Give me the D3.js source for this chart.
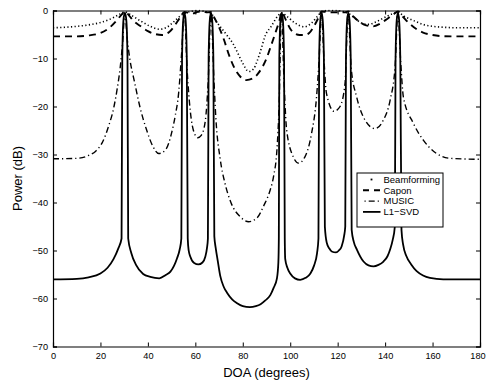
<!DOCTYPE html>
<html>
<head>
<meta charset="utf-8">
<script src="https://cdn.jsdelivr.net/npm/d3@7"></script>
<style>
  html, body { margin: 0; padding: 0; background: #fff; }
  svg { display: block; font-family: "Liberation Sans", Arial, Helvetica, sans-serif; }
</style>
</head>
<body>
<svg id="chart" width="486" height="385"></svg>
<script>
// ---------- DATA (degrees, dB) ----------
const xTicks = [0, 20, 40, 60, 80, 100, 120, 140, 160, 180];
const yTicks = [0, -10, -20, -30, -40, -50, -60, -70];
const seriesNames = ["Beamforming", "Capon", "MUSIC", "L1\u2212SVD"];

const beamforming = [
  [0,-3.6],[5,-3.5],[10,-3.3],[15,-3.0],[20,-2.5],[25,-1.6],[28,-0.8],[30.3,-0.3],
  [33,-1.0],[37,-2.2],[41,-3.3],[45,-3.9],[48,-3.5],[51,-2.3],[54,-1.0],[55.5,-0.6],
  [58,-0.2],[61,0],[64,-0.2],[66.6,-0.6],[69,-2.4],[72,-4.3],[74,-5.6],[76,-7.0],
  [78,-9.0],[80,-11.0],[82.5,-12.7],[84.5,-12.2],[86,-10.6],[87.5,-8.4],[89.5,-5.2],
  [92,-3.3],[95,-1.0],[96.4,-0.5],[99,-1.4],[102,-2.6],[106,-3.4],[109,-2.6],
  [111.5,-1.2],[113.2,-0.3],[116,0],[119,0],[122,-0.2],[124.5,-0.6],[127,-1.5],
  [130,-2.6],[133,-2.9],[136,-2.4],[140,-1.4],[143,-0.7],[145.4,-0.4],[148,-1.2],
  [152,-2.1],[156,-2.9],[160,-3.3],[165,-3.5],[170,-3.6],[180,-3.6]
];

const capon = [
  [0,-5.4],[10,-5.4],[15,-5.2],[20,-4.7],[24,-3.5],[27,-2.0],[29,-0.8],[30.3,-0.2],
  [32,-1.0],[34,-2.2],[37,-3.3],[40,-4.3],[43,-4.9],[46,-5.1],[49,-4.5],[51.5,-3.0],
  [53.5,-1.5],[55.4,-0.3],[57,-0.5],[59,-0.6],[61,-0.3],[63,-0.2],[65,-0.4],[66.6,-0.3],
  [68,-1.5],[70,-3.5],[72,-6.0],[74,-9.0],[76.5,-12.0],[79,-13.8],[81.5,-14.5],
  [84,-14.2],[86,-13.4],[88,-12.0],[90,-10.0],[92,-7.2],[94,-4.3],[95.5,-2.0],
  [96.4,-0.3],[98,-1.8],[100,-3.8],[102,-4.8],[104,-5.1],[106,-5.1],[108,-4.7],
  [110,-3.3],[111.8,-1.6],[113.2,-0.2],[115,-0.3],[118,-0.4],[121,-0.4],[123,-0.4],
  [124.5,-0.2],[126.5,-1.2],[129,-2.3],[132,-3.1],[135,-3.3],[138,-2.7],[141,-1.7],
  [143.5,-0.8],[145.4,-0.2],[147.5,-1.3],[150,-2.6],[153,-3.8],[156,-4.6],[159,-5.0],
  [163,-5.3],[170,-5.4],[180,-5.4]
];

const music = [
  [0,-30.9],[10,-30.8],[15,-30.2],[18,-29.3],[21,-27.3],[23.5,-24.0],[25.5,-20.5],
  [27,-16.5],[28.3,-12.0],[29.3,-7.0],[30.3,-0.5],[31.3,-6.0],[32.3,-9.8],[34.5,-15.2],
  [36.6,-20.0],[39.4,-24.8],[42,-28.2],[44.6,-29.8],[47.5,-29.0],[50,-25.5],[51.5,-22.0],
  [53,-17.0],[54.2,-9.0],[55.4,-0.5],[56.5,-12.0],[57.5,-19.0],[59.2,-25.0],[61,-26.5],
  [62.5,-26.0],[64.2,-23.0],[65.4,-15.0],[66.6,-0.5],[67.8,-14.0],[68.6,-22.0],
  [70.5,-31.0],[72.5,-36.0],[75,-40.0],[79,-43.0],[82.5,-44.0],[86,-43.2],[89,-40.5],
  [91.5,-37.5],[93,-34.5],[94.4,-29.0],[95.3,-20.0],[96.3,-0.5],[97.4,-15.0],
  [98.5,-24.9],[101.3,-30.5],[103.5,-31.8],[106.2,-30.5],[109,-25.6],[111.1,-18.0],
  [112.2,-10.0],[113.2,-0.5],[114.2,-10.0],[115.3,-17.3],[118.5,-21.0],[121,-20.0],
  [123.1,-15.2],[124.4,-0.5],[125.7,-12.0],[128,-18.0],[131.5,-22.8],[135.7,-24.6],
  [139.3,-22.8],[142.1,-18.7],[144.2,-11.7],[145.4,-0.5],[146.6,-11.0],[147.7,-18.0],
  [151.9,-23.5],[156.1,-27.0],[161.7,-29.8],[167.4,-30.8],[180,-31.0]
];

const l1svd = [
  [0,-56.0],[10,-55.9],[15,-55.6],[20,-54.8],[23,-53.6],[25.5,-51.8],[27.5,-49.6],
  [28.9,-47.5],[29.2,-10],[29.7,-2],[30.3,-0.5],[30.9,-2],[31.4,-10],[31.7,-47.5],
  [33,-50.5],[35,-53.0],[38,-54.9],[41,-55.5],[44.8,-55.8],[47.5,-55.1],[49.5,-54.4],
  [51,-53.2],[52.3,-51.6],[53.4,-49.8],[54.1,-47.5],[54.4,-10],[54.9,-2],[55.4,-0.5],
  [55.9,-2],[56.4,-10],[56.8,-47.5],[57.2,-50.0],[57.9,-51.3],[59.5,-52.6],[61.3,-52.9],
  [63,-52.5],[64.2,-51.3],[64.9,-49.5],[65.3,-47.5],[65.6,-10],[66.1,-2],[66.6,-0.5],
  [67.1,-2],[67.6,-10],[68.0,-47.0],[68.6,-49.5],[69.4,-52.0],[70.5,-55.3],[72,-57.6],
  [73.5,-58.9],[75.5,-60.2],[77.6,-61.0],[80,-61.6],[83,-61.8],[85.5,-61.6],[87.5,-61.2],
  [89.5,-60.4],[91.6,-59.3],[93,-57.8],[94.4,-55.8],[95.0,-52.5],[95.2,-47.5],
  [95.4,-10],[95.9,-2],[96.4,-0.5],[96.9,-2],[97.4,-10],[97.7,-47.5],[97.9,-51.8],
  [98.8,-53.6],[100,-54.8],[102,-55.8],[104.2,-56.1],[106.5,-55.7],[108.5,-54.8],
  [110,-53.2],[111.3,-50.6],[111.9,-47.5],[112.2,-10],[112.7,-2],[113.2,-0.5],
  [113.7,-2],[114.2,-10],[114.6,-45.0],[115.4,-48.4],[116.5,-49.6],[117.5,-50.2],
  [119.3,-50.4],[120.5,-50.0],[121.7,-49.1],[122.7,-47.0],[123.2,-45.0],[123.5,-10],
  [124.0,-2],[124.5,-0.5],[125.0,-2],[125.5,-10],[125.9,-45.7],[126.8,-48.2],
  [128.1,-49.8],[130.9,-52.3],[133,-53.1],[135.1,-53.3],[137.2,-53.0],[139.3,-52.3],
  [141,-51.2],[142.1,-49.8],[143.2,-47.8],[144.1,-45.0],[144.4,-10],[144.9,-2],
  [145.4,-0.5],[145.9,-2],[146.4,-10],[146.9,-45.7],[147.6,-48.8],[149,-51.2],
  [151,-52.9],[153.3,-54.3],[156,-55.2],[158.9,-55.7],[164.5,-56.0],[170,-56.0],[180,-56.0]
];

// ---------- LAYOUT ----------
const W = 486, H = 385;
const margin = { left: 53, right: 6, top: 10.5, bottom: 38.5 };
const x0 = margin.left, x1 = W - margin.right;
const y0 = margin.top, y1 = H - margin.bottom;

const svg = d3.select("#chart");
const x = d3.scaleLinear().domain([0, 180]).range([x0, x1]);
const y = d3.scaleLinear().domain([-70, 0]).range([y1, y0]);

svg.append("defs").append("clipPath").attr("id", "clip")
  .append("rect").attr("x", x0).attr("y", y0 - 1).attr("width", x1 - x0).attr("height", y1 - y0 + 1);

const tickFont = 9.2;
// axes (ticks inside, box)
const axB = d3.axisBottom(x).tickValues(xTicks).tickSize(-4).tickPadding(6).tickFormat(d3.format("d"));
const axT = d3.axisTop(x).tickValues(xTicks).tickSize(-4).tickFormat("");
const axL = d3.axisLeft(y).tickValues(yTicks).tickSize(-4).tickPadding(5)
  .tickFormat(d => d < 0 ? "\u2212" + Math.abs(d) : String(d));
const axR = d3.axisRight(y).tickValues(yTicks).tickSize(-4).tickFormat("");

function styleAxis(g) {
  g.selectAll("path.domain").attr("stroke", "#000").attr("stroke-width", 1.2);
  g.selectAll(".tick line").attr("stroke", "#000").attr("stroke-width", 1);
  g.selectAll(".tick text").attr("fill", "#000").attr("font-size", tickFont)
    .attr("font-family", "Liberation Sans, Arial, sans-serif");
}
const gB = svg.append("g").attr("transform", `translate(0,${y1})`).call(axB).call(styleAxis);
// keep the last label inside the window
gB.selectAll(".tick text").filter(d => d === 180).attr("dx", -2.5);
svg.append("g").attr("transform", `translate(0,${y0})`).call(axT).call(styleAxis);
svg.append("g").attr("transform", `translate(${x0},0)`).call(axL).call(styleAxis);
svg.append("g").attr("transform", `translate(${x1},0)`).call(axR).call(styleAxis);

// series styles
const styles = [
  { data: beamforming, width: 1.6, dash: "1.2,2.4", cap: "butt" },
  { data: capon,       width: 1.9, dash: "7,5",     cap: "butt" },
  { data: music,       width: 1.4, dash: "6,3,1.2,3", cap: "butt" },
  { data: l1svd,       width: 1.8, dash: null,      cap: "butt" }
];

const line = d3.line().x(d => x(d[0])).y(d => y(d[1])).curve(d3.curveMonotoneX);
const plot = svg.append("g").attr("clip-path", "url(#clip)");
styles.forEach(s => {
  plot.append("path").datum(s.data)
    .attr("d", line)
    .attr("fill", "none")
    .attr("stroke", "#000")
    .attr("stroke-width", s.width)
    .attr("stroke-linecap", s.cap)
    .attr("stroke-linejoin", "round")
    .attr("stroke-dasharray", s.dash);
});

// axis labels
svg.append("text").attr("x", (x0 + x1) / 2).attr("y", 377)
  .attr("text-anchor", "middle").attr("font-size", 13).attr("fill", "#000")
  .text("DOA (degrees)");
svg.append("text").attr("transform", `translate(22,${(y0 + y1) / 2}) rotate(-90)`)
  .attr("text-anchor", "middle").attr("font-size", 13).attr("fill", "#000")
  .text("Power (dB)");

// legend
const lg = svg.append("g");
const lx = 357, ly = 173, lw = 86, lh = 54;
lg.append("rect").attr("x", lx).attr("y", ly).attr("width", lw).attr("height", lh)
  .attr("fill", "#fff").attr("stroke", "#000").attr("stroke-width", 1);
const legDash = ["0.01,20", "6,5", "1.2,3,6,3", null];
const legStart = [371.5, 363, 364.5, 363];
seriesNames.forEach((name, i) => {
  const yy = ly + 6.5 + i * 10.8;
  lg.append("line").attr("x1", legStart[i]).attr("x2", 380.5).attr("y1", yy).attr("y2", yy)
    .attr("stroke", "#000").attr("stroke-width", i === 0 ? 1.8 : styles[i].width)
    .attr("stroke-linecap", i === 0 ? "square" : "butt")
    .attr("stroke-dasharray", legDash[i]);
  lg.append("text").attr("x", 383.5).attr("y", yy + 3.3)
    .attr("font-size", 9.5).attr("fill", "#000").text(name);
});
</script>
</body>
</html>
